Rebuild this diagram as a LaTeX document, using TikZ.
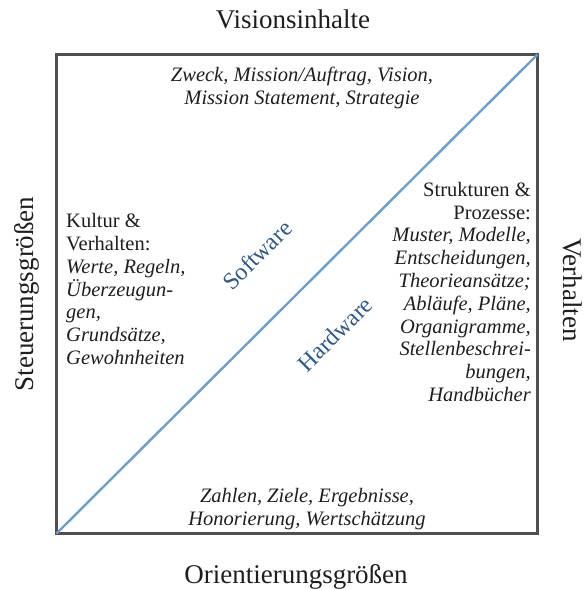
\documentclass[tikz,border=0pt]{standalone}
\usepackage{fontspec}
\setmainfont{Liberation Serif}
\definecolor{frame}{HTML}{505050}
\definecolor{diag}{HTML}{6A9FD4}
\definecolor{swhw}{HTML}{2C5A8A}
\definecolor{txt}{HTML}{1E1E1E}
\begin{document}
\begin{tikzpicture}[x=1pt,y=-1pt,
  title/.style={font=\fontsize{27}{30}\selectfont, text=txt, inner sep=0pt, anchor=base},
  body/.style={font=\fontsize{20.5}{22.8}\selectfont, text=txt, inner sep=0pt},
  axis/.style={font=\fontsize{24}{26}\selectfont, text=swhw, inner sep=0pt, rotate=44.8}]
\useasboundingbox (0,0) rectangle (588,590);
\coordinate (tl) at (56.5,54.5);
\coordinate (br) at (537.5,533.5);
\coordinate (bl) at (56.5,533.5);
\coordinate (tr) at (537.5,54.5);
\draw[frame, line width=3.3pt] (tl) rectangle (br);
\draw[diag, line width=2.4pt] (bl) -- (tr);
\node[title] (top) at (293,28) {Visionsinhalte};
\node[title] (bot) at (296,583) {Orientierungsgrößen};
\node[title, rotate=90] (left) at (34,294) {Steuerungsgrößen};
\node[title, rotate=-90] (right) at (563,290) {Verhalten};
\node[body, align=center] (tt) at (302,88) {\itshape Zweck, Mission/Auftrag, Vision,\\\itshape Mission Statement, Strategie};
\node[body, align=center] (bt) at (307,509) {\itshape Zahlen, Ziele, Ergebnisse,\\\itshape Honorierung, Wertschätzung};
\node[body, align=left, anchor=west] (lt) at (66,289) {Kultur \&\\Verhalten:\\\itshape Werte, Regeln,\\\itshape Überzeugun-\\\itshape gen,\\\itshape Grundsätze,\\\itshape Gewohnheiten};
\node[body, align=right, anchor=east] (rt) at (531,292) {Strukturen \&\\Prozesse:\\\itshape Muster, Modelle,\\\itshape Entscheidungen,\\\itshape Theorieansätze;\\\itshape Abläufe, Pläne,\\\itshape Organigramme,\\\itshape Stellenbeschrei-\\\itshape bungen,\\\itshape Handbücher};
\node[axis] (sw) at (257,255) {Software};
\node[axis] (hw) at (335,334) {Hardware};
\end{tikzpicture}
\end{document}
